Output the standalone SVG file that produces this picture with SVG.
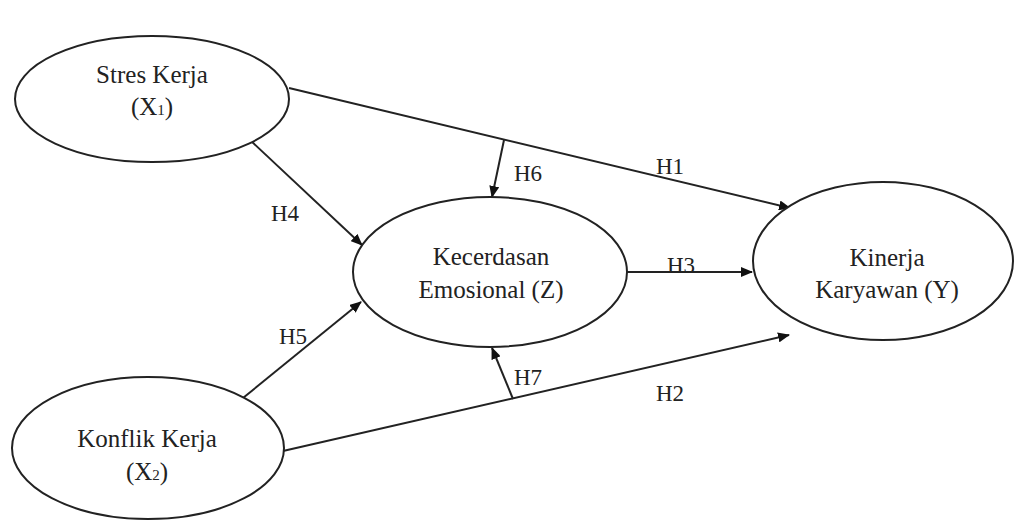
<svg xmlns="http://www.w3.org/2000/svg" width="1016" height="525" viewBox="0 0 1016 525">
<style>
.node{fill:#fff;stroke:#222;stroke-width:2}
.t{font-family:"Liberation Serif","Times New Roman",serif;font-size:25px;fill:#222;text-anchor:middle}
.l{font-family:"Liberation Serif","Times New Roman",serif;font-size:23px;fill:#222}
.e{fill:none;stroke:#222;stroke-width:2}
</style>
<defs>
<marker id="ah" viewBox="0 0 12 10" refX="11" refY="5" markerWidth="12" markerHeight="10" markerUnits="userSpaceOnUse" orient="auto">
<path d="M0,0 L12,5 L0,10 Z" fill="#111"/>
</marker>
</defs>
<rect width="1016" height="525" fill="#fff"/>
<g id="connectors">
<line class="e" x1="289" y1="88" x2="790" y2="208" marker-end="url(#ah)"/>
<line class="e" x1="283" y1="451" x2="789" y2="335" marker-end="url(#ah)"/>
<line class="e" x1="250" y1="140" x2="362" y2="245" marker-end="url(#ah)"/>
<line class="e" x1="243" y1="398" x2="361" y2="302" marker-end="url(#ah)"/>
<line class="e" x1="627" y1="272" x2="752" y2="272" marker-end="url(#ah)"/>
<line class="e" x1="504" y1="140" x2="492" y2="197" marker-end="url(#ah)"/>
<line class="e" x1="513" y1="399" x2="492" y2="348" marker-end="url(#ah)"/>
<text class="l" x="656" y="174">H1</text>
<text class="l" x="514" y="181">H6</text>
<text class="l" x="271" y="221">H4</text>
<text class="l" x="667" y="273">H3</text>
<text class="l" x="279" y="344">H5</text>
<text class="l" x="514" y="385">H7</text>
<text class="l" x="656" y="401">H2</text>
</g>
<g id="x1">
<ellipse class="node" cx="152" cy="99" rx="137" ry="63"/>
<text class="t" x="152" y="83">Stres Kerja</text>
<text class="t" x="152" y="115">(X<tspan font-size="15">1</tspan>)</text>
</g>
<g id="x2">
<ellipse class="node" cx="148" cy="448" rx="136" ry="71"/>
<text class="t" x="147" y="447">Konflik Kerja</text>
<text class="t" x="147" y="480">(X<tspan font-size="15">2</tspan>)</text>
</g>
<g id="z">
<ellipse class="node" cx="490" cy="272" rx="137" ry="75"/>
<text class="t" x="491" y="265">Kecerdasan</text>
<text class="t" x="491" y="298">Emosional (Z)</text>
</g>
<g id="y">
<ellipse class="node" cx="883" cy="261" rx="130" ry="79"/>
<text class="t" x="887" y="266">Kinerja</text>
<text class="t" x="887" y="298">Karyawan (Y)</text>
</g>
</svg>
